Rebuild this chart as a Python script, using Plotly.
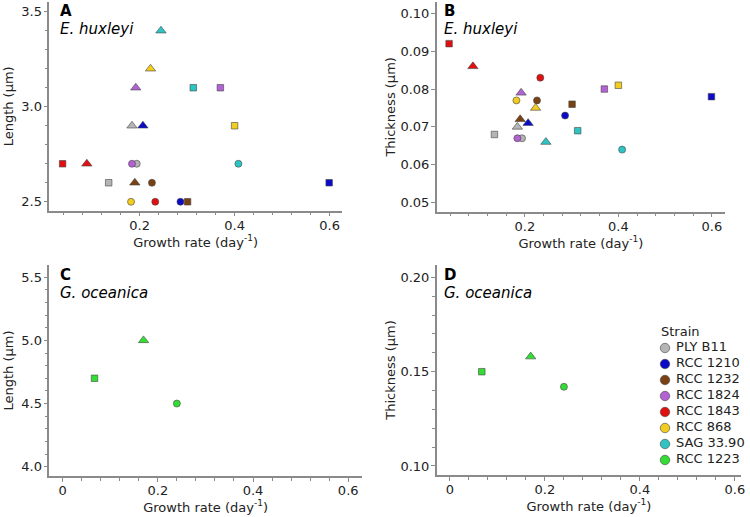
import plotly.graph_objects as go
from plotly.subplots import make_subplots

# E. huxleyi strains, each measured under three conditions (circle, triangle, square)
strains = ["PLY B11", "RCC 1210", "RCC 1232", "RCC 1824", "RCC 1843", "RCC 868", "SAG 33.90"]
strain_colors = ["#b4b4b4", "#0a0ac8", "#7a4212", "#b262d2", "#e01010", "#f2cc1e", "#2ec4c4"]
symbols = ["circle", "triangle-up", "square"]
sizes = [7, 9, 6.5]

# growth rate (day-1) per strain: [circle, triangle, square]
ehux_growth = [
    [0.194, 0.184, 0.135],
    [0.286, 0.207, 0.599],
    [0.226, 0.190, 0.301],
    [0.184, 0.192, 0.370],
    [0.233, 0.089, 0.038],
    [0.182, 0.223, 0.400],
    [0.408, 0.245, 0.313],
]
ehux_length = [
    [2.7, 2.9, 2.6],
    [2.5, 2.9, 2.6],
    [2.6, 2.6, 2.5],
    [2.7, 3.1, 3.1],
    [2.5, 2.7, 2.7],
    [2.5, 3.2, 2.9],
    [2.7, 3.4, 3.1],
]
ehux_thickness = [
    [0.067, 0.070, 0.068],
    [0.073, 0.071, 0.078],
    [0.077, 0.072, 0.076],
    [0.067, 0.079, 0.080],
    [0.083, 0.086, 0.092],
    [0.077, 0.075, 0.081],
    [0.064, 0.066, 0.069],
]

# G. oceanica RCC 1223
goc_strain = "RCC 1223"
goc_color = "#33dd33"
goc_growth = [0.240, 0.170, 0.067]
goc_length = [4.5, 5.0, 4.7]
goc_thickness = [0.142, 0.158, 0.150]

all_strains = strains + [goc_strain]
all_colors = strain_colors + [goc_color]

W, H = 750, 517


def fx(px):
    return px / W


def fy(py):
    return 1 - py / H


fig = make_subplots(rows=2, cols=2)

mk_line = dict(color="#444444", width=0.6)


def mk(c):
    return dict(symbol=symbols, color=c, size=sizes, opacity=1, line=mk_line)


for s, c, g, l, t in zip(strains, strain_colors, ehux_growth, ehux_length, ehux_thickness):
    fig.add_trace(go.Scatter(x=g, y=l, mode="markers", name=s, marker=mk(c)), row=1, col=1)
    fig.add_trace(go.Scatter(x=g, y=t, mode="markers", name=s, marker=mk(c)), row=1, col=2)

fig.add_trace(go.Scatter(x=goc_growth, y=goc_length, mode="markers", name=goc_strain,
                         marker=mk(goc_color)), row=2, col=1)
fig.add_trace(go.Scatter(x=goc_growth, y=goc_thickness, mode="markers", name=goc_strain,
                         marker=mk(goc_color)), row=2, col=2)

# strain key, drawn on its own hidden category axis
fig.add_trace(go.Scatter(x=[0] * len(all_strains), y=all_strains, mode="markers+text",
                         text=[" " + s for s in all_strains], textposition="middle right",
                         textfont=dict(size=13, color="#222222"), cliponaxis=False,
                         marker=dict(symbol="circle", color=all_colors, size=9.5, line=mk_line),
                         xaxis="x5", yaxis="y5", hoverinfo="skip"))

axis_style = dict(showline=True, linecolor="#8a8a8a", linewidth=1.5, ticks="outside",
                  ticklen=4, tickwidth=1.2, tickcolor="#8a8a8a", showgrid=False,
                  zeroline=False, automargin=False, tickfont=dict(size=13, color="#222222"),
                  title_font=dict(size=13, color="#222222"))

xtitle = "Growth rate (day<sup>-1</sup>)"
fig.update_xaxes(**axis_style, dtick=0.2, tick0=0, ticklabelstandoff=-2,
                 minor=dict(dtick=0.04, ticks="outside", ticklen=3, tickcolor="#8a8a8a"),
                 title_text=xtitle, title_standoff=2)

fig.update_xaxes(range=[0.01, 0.626], domain=[fx(49.3), fx(342)], row=1, col=1)
fig.update_xaxes(range=[0.0115, 0.628], domain=[fx(436.7), fx(725)], row=1, col=2)
fig.update_xaxes(range=[-0.028, 0.629], domain=[fx(49.3), fx(362)], row=2, col=1)
fig.update_xaxes(range=[-0.028, 0.613], domain=[fx(436.7), fx(741)], row=2, col=2)

fig.update_yaxes(**axis_style, ticklabelstandoff=-1)
fig.update_yaxes(range=[2.453, 3.551], domain=[fy(210.7), fy(2)], dtick=0.5, tickformat=".1f",
                 minor=dict(dtick=0.1, ticks="outside", ticklen=3, tickcolor="#8a8a8a"),
                 title_text="Length (µm)", row=1, col=1)
fig.update_yaxes(range=[0.0476, 0.103], domain=[fy(211.7), fy(2)], dtick=0.01, tickformat=".2f",
                 title_text="Thickness (µm)", row=1, col=2)
fig.update_yaxes(range=[3.926, 5.597], domain=[fy(476), fy(265)], dtick=0.5, tickformat=".1f",
                 minor=dict(dtick=0.1, ticks="outside", ticklen=3, tickcolor="#8a8a8a"),
                 title_text="Length (µm)", row=2, col=1)
fig.update_yaxes(range=[0.0952, 0.2066], domain=[fy(475), fy(265)], dtick=0.05, tickformat=".2f",
                 minor=dict(dtick=0.01, ticks="outside", ticklen=3, tickcolor="#8a8a8a"),
                 title_text="Thickness (µm)", row=2, col=2)

panels = [("A", "E. huxleyi", 58, 11), ("B", "E. huxleyi", 442, 11),
          ("C", "G. oceanica", 58, 275), ("D", "G. oceanica", 442, 275)]
for letter, species, px, py in panels:
    fig.add_annotation(x=fx(px), y=fy(py), xref="paper", yref="paper",
                       text="<b>" + letter + "</b>", showarrow=False, xanchor="left",
                       yanchor="middle", font=dict(size=15, color="black"))
    fig.add_annotation(x=fx(px), y=fy(py + 18), xref="paper", yref="paper",
                       text="<i>" + species + "</i>", showarrow=False, xanchor="left",
                       yanchor="middle", font=dict(size=15, color="black"))

fig.add_annotation(x=fx(659), y=fy(331), xref="paper", yref="paper", text="Strain",
                   showarrow=False, xanchor="left", yanchor="middle",
                   font=dict(size=13, color="#222222"))

fig.update_layout(
    template="none",
    width=W, height=H, autosize=False,
    showlegend=False,
    margin=dict(l=0, r=0, t=0, b=0, autoexpand=False),
    paper_bgcolor="white", plot_bgcolor="white",
    font=dict(family="DejaVu Sans", size=13, color="#222222"),
    xaxis5=dict(domain=[fx(665), fx(700)], range=[0, 1], visible=False, anchor="y5",
                fixedrange=True),
    yaxis5=dict(domain=[fy(468), fy(340)], type="category", range=[7.5, -0.5],
                visible=False, anchor="x5", fixedrange=True),
)

# drop the page's default body margin so the 750x517 figure fills the window
fig.write_html("out.html", config={"displayModeBar": False},
               post_script="document.body.style.margin='0';document.body.style.overflow='hidden';")
